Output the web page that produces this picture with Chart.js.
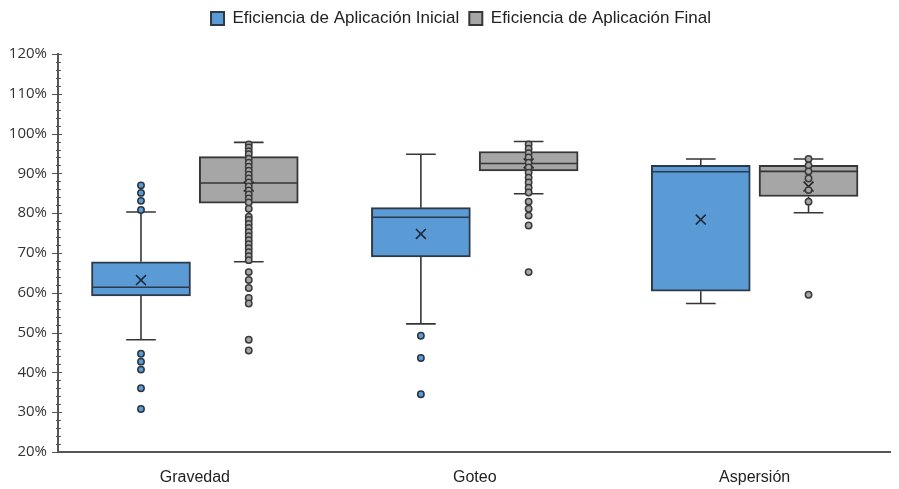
<!DOCTYPE html>
<html>
<head>
<meta charset="utf-8">
<script src="https://cdn.jsdelivr.net/npm/chart.js@4.4.0/dist/chart.umd.min.js"></script>
<style>
    body { margin: 0; background: #fff; }
    #wrap { width: 899px; height: 489px; }
</style>
</head>
<body>
<div id="wrap"><canvas id="boxChart"></canvas></div>
<script>
// 카테고리
const categories = ['Gravedad', 'Goteo', 'Aspersión'];

// Eficiencia inicial (%)
const inicialQ1 = [59.2, 69.0, 60.4];
const inicialMedian = [61.4, 79.0, 90.4];
const inicialQ3 = [67.8, 81.4, 92.0];
const inicialMin = [48.2, 52.2, 57.3];
const inicialMax = [80.3, 94.8, 93.6];
const inicialMean = [63.2, 74.8, 78.4];
const inicialPoints = [
    [87.0, 85.1, 83.1, 80.8, 44.7, 42.7, 40.7, 36.0, 30.8],
    [49.2, 43.6, 34.5],
    []
];

// Eficiencia final (%)
const finalQ1 = [82.5, 90.6, 84.2];
const finalMedian = [87.6, 92.5, 90.5];
const finalQ3 = [94.2, 95.5, 92.0];
const finalMin = [67.8, 84.9, 80.1];
const finalMax = [97.8, 98.0, 93.6];
const finalMean = [86.7, 92.5, 86.7];
const finalPoints = [
    [97.3, 96.5, 95.6, 94.8, 93.7, 92.7, 91.7, 90.7, 89.7, 88.7, 87.7, 86.7, 85.7, 84.7,
     83.7, 82.7, 81.1, 79.1, 78.3, 77.3, 76.3, 75.2, 74.2, 73.2, 72.2, 71.2, 70.2, 69.2,
     68.2, 65.2, 63.2, 61.2, 58.7, 57.3, 48.2, 45.5],
    [97.3, 96.2, 95.1, 94.0, 92.7, 91.5, 90.2, 88.9, 87.7, 86.4, 85.2, 82.9, 81.1, 79.4, 76.9, 65.2],
    [93.6, 92.0, 90.5, 88.7, 85.8, 82.9, 59.5]
];

// 축 눈금
const xTicks = [0, 1, 2];
const yTicks = [20, 30, 40, 50, 60, 70, 80, 90, 100, 110, 120];

// 상자 위치 (카테고리 단위)
const slot = 0.385;
const halfBox = 0.175;
const halfCap = 0.053;
const BOX_PX = 99;

// 상자 그림 선 만들기
function boxLines(offset, q1, q3, mins, maxs, med) {
    const whisk = [];
    const medLine = [];
    categories.forEach((c, i) => {
        const cx = i + offset;
        whisk.push({x: cx, y: q3[i]}, {x: cx, y: maxs[i]}, {x: cx, y: null});
        whisk.push({x: cx, y: q1[i]}, {x: cx, y: mins[i]}, {x: cx, y: null});
        whisk.push({x: cx - halfCap, y: maxs[i]}, {x: cx + halfCap, y: maxs[i]}, {x: cx, y: null});
        whisk.push({x: cx - halfCap, y: mins[i]}, {x: cx + halfCap, y: mins[i]}, {x: cx, y: null});
        medLine.push({x: cx - halfBox, y: med[i]}, {x: cx + halfBox, y: med[i]}, {x: cx, y: null});
    });
    return {whisk, medLine};
}

function boxList(offset, q1, q3) {
    return q1.map((v, i) => ({x: i + offset, y: [v, q3[i]]}));
}

function pointList(offset, pts) {
    const out = [];
    pts.forEach((arr, i) => arr.forEach(v => out.push({x: i + offset, y: v})));
    return out;
}

function meanList(offset, means) {
    return means.map((v, i) => ({x: i + offset, y: v}));
}

const offIni = -slot / 2;
const offFin = slot / 2;
const iniLines = boxLines(offIni, inicialQ1, inicialQ3, inicialMin, inicialMax, inicialMedian);
const finLines = boxLines(offFin, finalQ1, finalQ3, finalMin, finalMax, finalMedian);

const BLUE = '#5b9bd5';
const GRAY = '#a6a6a6';
const EDGE = '#363636';
const BLUE_EDGE = '#2c3a48';

function lineSet(data, order) {
    return {
        type: 'scatter', data: data, showLine: true, spanGaps: false,
        borderColor: EDGE, borderWidth: 1.6, pointRadius: 0, order: order
    };
}

// 보조 눈금 그리기
const minorTicks = {
    id: 'minorTicks',
    afterDraw(chart) {
        const y = chart.scales.y;
        const ctx = chart.ctx;
        const x0 = chart.chartArea.left;
        ctx.save();
        ctx.strokeStyle = '#555';
        ctx.lineWidth = 1;
        for (let v = 20; v <= 120; v += 2) {
            const py = Math.round(y.getPixelForValue(v)) + 0.5;
            const major = v % 10 === 0;
            ctx.beginPath();
            ctx.moveTo(x0 - (major ? 6 : 2), py);
            ctx.lineTo(x0 + (major ? 4 : 3), py);
            ctx.stroke();
        }
        ctx.restore();
    }
};

// 범례 위치 조정
const legendSpace = {
    id: 'legendSpace',
    beforeInit(chart) {
        const fit = chart.legend.fit;
        chart.legend.fit = function() {
            fit.bind(chart.legend)();
            this.height += 17;
        };
    },
    afterLayout(chart) {
        chart.legend.left += 12;
        chart.legend.right += 12;
    }
};

const ctx = document.getElementById('boxChart').getContext('2d');
new Chart(ctx, {
    type: 'bar',
    data: {
        datasets: [
            {
                label: 'Eficiencia de Aplicación Inicial',
                data: boxList(offIni, inicialQ1, inicialQ3),
                backgroundColor: BLUE, borderColor: BLUE_EDGE, borderWidth: 2, borderSkipped: false,
                grouped: false, barThickness: BOX_PX, order: 20
            },
            {
                label: 'Eficiencia de Aplicación Final',
                data: boxList(offFin, finalQ1, finalQ3),
                backgroundColor: GRAY, borderColor: EDGE, borderWidth: 2, borderSkipped: false,
                grouped: false, barThickness: BOX_PX, order: 20
            },
            lineSet(iniLines.whisk, 15),
            lineSet(finLines.whisk, 15),
            { ...lineSet(iniLines.medLine, 14), borderColor: BLUE_EDGE },
            lineSet(finLines.medLine, 14),
            {
                type: 'scatter', data: meanList(offIni, inicialMean),
                pointStyle: 'crossRot', pointRadius: 7, borderColor: '#1c2836', borderWidth: 1.6, order: 10
            },
            {
                type: 'scatter', data: meanList(offFin, finalMean),
                pointStyle: 'crossRot', pointRadius: 7, borderColor: '#262626', borderWidth: 1.6, order: 10
            },
            {
                type: 'scatter', data: pointList(offIni, inicialPoints),
                pointRadius: 3.2, backgroundColor: BLUE, borderColor: '#2a3540', borderWidth: 1.5, order: 5
            },
            {
                type: 'scatter', data: pointList(offFin, finalPoints),
                pointRadius: 3.2, backgroundColor: GRAY, borderColor: '#3a3a3a', borderWidth: 1.5, order: 5
            }
        ]
    },
    options: {
        responsive: true,
        maintainAspectRatio: false,
        animation: false,
        layout: { padding: { left: 0, right: 1, top: 0, bottom: 0 } },
        plugins: {
            tooltip: { enabled: false },
            legend: {
                position: 'top',
                labels: {
                    filter: item => item.datasetIndex < 2,
                    boxWidth: 13, boxHeight: 13, padding: 10,
                    color: '#222',
                    font: { family: 'Liberation Sans, Arial, sans-serif', size: 17 }
                }
            }
        },
        scales: {
            x: {
                type: 'linear', offset: false, min: -0.489, max: 2.485,
                afterBuildTicks: scale => { scale.ticks = xTicks.map(v => ({value: v})); },
                grid: { display: false },
                border: { display: true, color: '#555', width: 2 },
                ticks: {
                    color: '#222', padding: 8,
                    font: { family: 'Liberation Sans, Arial, sans-serif', size: 16 },
                    callback: v => categories[v]
                },
                afterFit: scale => { scale.height = 37; }
            },
            y: {
                min: 20, max: 120,
                afterBuildTicks: scale => { scale.ticks = yTicks.map(v => ({value: v})); },
                grid: { display: false },
                border: { display: true, color: '#555', width: 2 },
                ticks: {
                    color: '#333', padding: 3,
                    font: { family: 'Open Sans, Liberation Sans, sans-serif', size: 15 },
                    callback: v => v + '%'
                },
                afterFit: scale => { scale.width = 58; }
            }
        }
    },
    plugins: [minorTicks, legendSpace]
});
</script>
</body>
</html>
